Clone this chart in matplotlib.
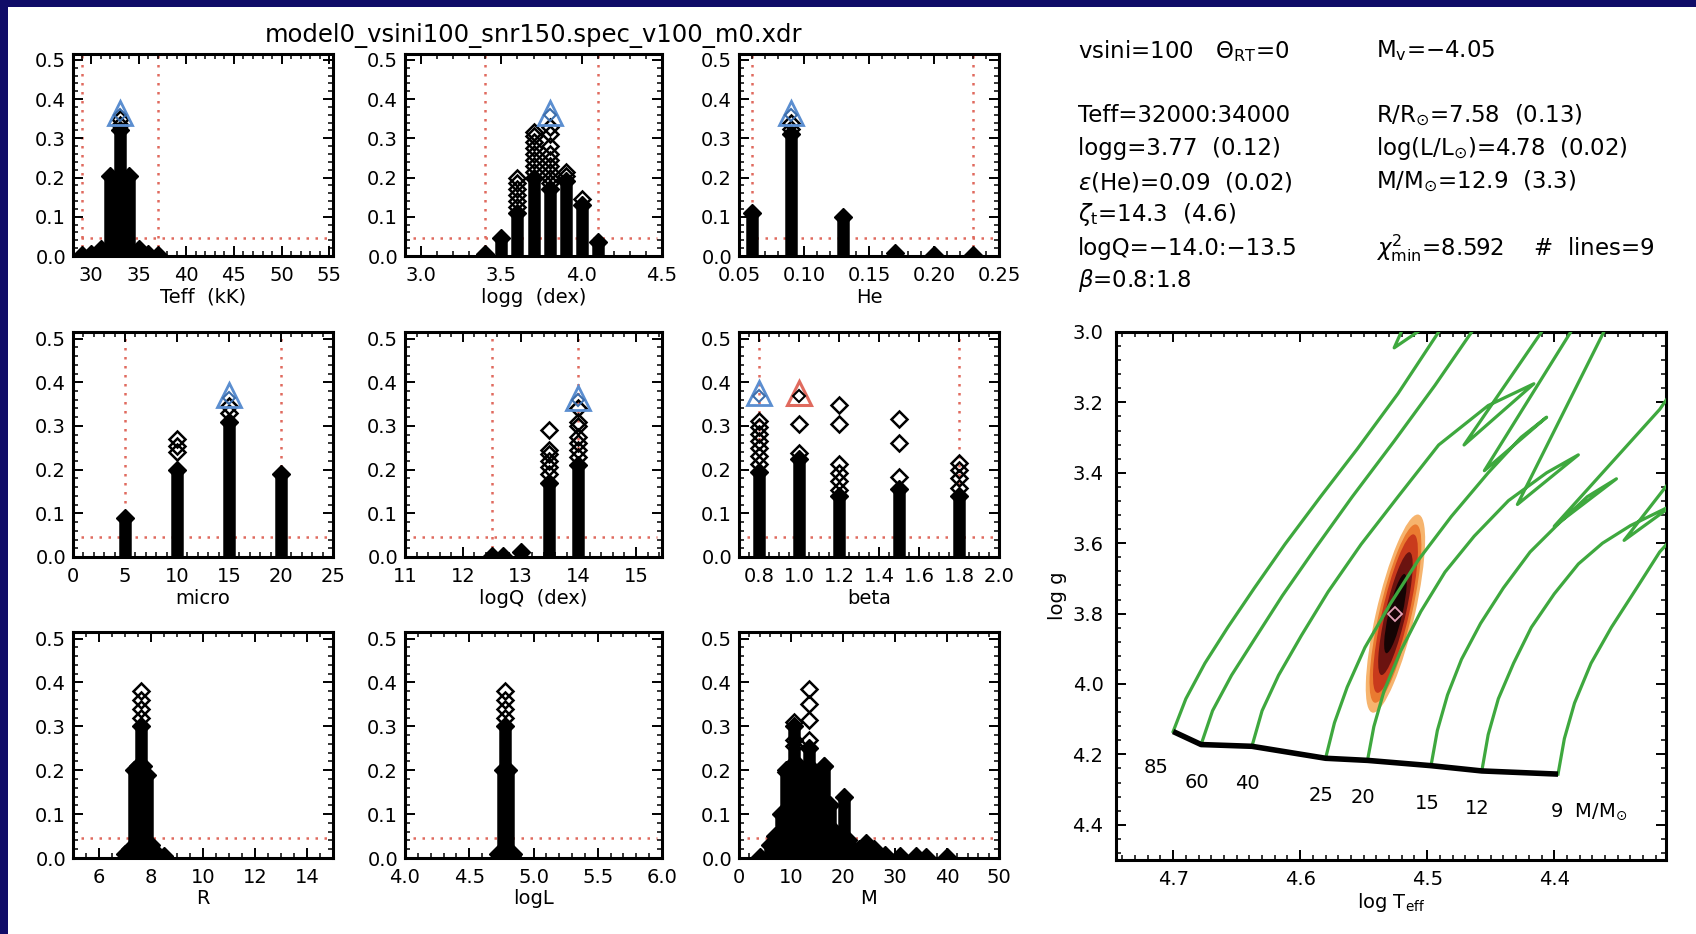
import matplotlib
matplotlib.use("Agg")
import matplotlib.pyplot as plt
from matplotlib.ticker import MultipleLocator, FormatStrFormatter
from matplotlib.patches import Rectangle, Circle
from matplotlib.transforms import Affine2D

plt.rcParams['font.family'] = ['DejaVu Sans']
plt.rcParams['mathtext.fontset'] = 'dejavusans'

# ------------------------------------------------------------------ data
title = "model0_vsini100_snr150.spec_v100_m0.xdr"
floor_level = 0.045

# Teff (kK)
teff_col_x = [29, 30, 31, 32, 33, 34, 35, 36, 37]
teff_col_top = [0.002, 0.006, 0.018, 0.205, 0.32, 0.205, 0.018, 0.006, 0.002]
teff_pts_x = [33, 33]
teff_pts_y = [0.335, 0.35]
teff_best = [33, 0.365]
teff_bounds = [29.0, 37.0]

# logg
logg_col_x = [3.4, 3.5, 3.6, 3.7, 3.8, 3.9, 4.0, 4.1]
logg_col_top = [0.004, 0.045, 0.11, 0.2, 0.17, 0.19, 0.13, 0.035]
logg_pts_x = [3.6, 3.6, 3.6, 3.6, 3.6, 3.6,
              3.7, 3.7, 3.7, 3.7, 3.7, 3.7, 3.7, 3.7,
              3.8, 3.8, 3.8, 3.8, 3.8, 3.8, 3.8, 3.8, 3.8,
              3.9, 3.9, 4.0]
logg_pts_y = [0.125, 0.14, 0.155, 0.17, 0.185, 0.2,
              0.215, 0.23, 0.245, 0.26, 0.275, 0.29, 0.305, 0.315,
              0.185, 0.2, 0.215, 0.23, 0.245, 0.26, 0.28, 0.31, 0.33,
              0.205, 0.215, 0.145]
logg_best = [3.8, 0.365]
logg_bounds = [3.4, 4.1]

# He
he_col_x = [0.06, 0.09, 0.13, 0.17, 0.20, 0.23]
he_col_top = [0.11, 0.31, 0.10, 0.007, 0.003, 0.002]
he_pts_x = [0.09, 0.09]
he_pts_y = [0.325, 0.34]
he_best = [0.09, 0.365]
he_bounds = [0.06, 0.23]

# micro
micro_col_x = [5, 10, 15, 20]
micro_col_top = [0.09, 0.20, 0.31, 0.19]
micro_pts_x = [10, 10, 10, 15, 15]
micro_pts_y = [0.24, 0.255, 0.27, 0.33, 0.345]
micro_best = [15, 0.37]
micro_bounds = [5, 20]

# logQ (dex)
logq_col_x = [12.5, 12.7, 13.0, 13.5, 14.0]
logq_col_top = [0.002, 0.003, 0.012, 0.17, 0.21]
logq_pts_x = [13.5, 13.5, 13.5, 13.5, 13.5, 13.5,
              14.0, 14.0, 14.0, 14.0, 14.0, 14.0, 14.0]
logq_pts_y = [0.19, 0.205, 0.22, 0.235, 0.245, 0.29,
              0.23, 0.245, 0.26, 0.275, 0.30, 0.31, 0.34]
logq_best = [14.0, 0.365]
logq_bounds = [12.5, 14.0]

# beta
beta_col_x = [0.8, 1.0, 1.2, 1.5, 1.8]
beta_col_top = [0.195, 0.225, 0.14, 0.155, 0.14]
beta_pts_x = [0.8, 0.8, 0.8, 0.8, 0.8, 0.8, 0.8,
              1.0, 1.0,
              1.2, 1.2, 1.2, 1.2, 1.2, 1.2,
              1.5, 1.5, 1.5,
              1.8, 1.8, 1.8, 1.8]
beta_pts_y = [0.212, 0.231, 0.25, 0.266, 0.281, 0.297, 0.312,
              0.239, 0.305,
              0.153, 0.173, 0.192, 0.212, 0.305, 0.347,
              0.184, 0.262, 0.316,
              0.157, 0.18, 0.20, 0.215]
beta_best = [0.8, 0.375]
beta_alt = [1.0, 0.375]
beta_bounds = [0.8, 1.8]

# R
r_col_x = [7.0, 7.2, 7.35, 7.5, 7.6, 7.7, 7.85, 8.0, 8.2, 8.5]
r_col_top = [0.008, 0.02, 0.2, 0.21, 0.3, 0.21, 0.19, 0.03, 0.012, 0.004]
r_pts_x = [7.6, 7.6, 7.6, 7.6]
r_pts_y = [0.32, 0.34, 0.36, 0.38]

# logL
logl_col_x = [4.72, 4.76, 4.78, 4.80, 4.84]
logl_col_top = [0.01, 0.2, 0.3, 0.2, 0.01]
logl_pts_x = [4.78, 4.78, 4.78, 4.78]
logl_pts_y = [0.32, 0.34, 0.36, 0.38]

# M
m_col_x = [4, 6, 7, 8, 9, 10, 10.6, 11.5, 12.3, 13.5, 14.3, 15.1, 16.3, 17.5,
           18.5, 20.1, 21, 22, 23, 24.5, 26, 28, 31, 34, 36, 40]
m_col_top = [0.003, 0.03, 0.05, 0.1, 0.2, 0.21, 0.3, 0.21, 0.2, 0.25, 0.2, 0.19,
             0.21, 0.12, 0.06, 0.14, 0.04, 0.02, 0.02, 0.035, 0.02, 0.006, 0.005,
             0.005, 0.003, 0.002]
m_pts_x = [10.6, 10.6, 10.6, 13.5, 13.5, 13.5, 13.5, 9.0, 16.3, 15.1, 15.1, 12.3]
m_pts_y = [0.255, 0.27, 0.31, 0.27, 0.315, 0.35, 0.385, 0.195, 0.21, 0.15, 0.17, 0.18]

# HR diagram: evolutionary tracks (log Teff, log g)
track_masses = ["85", "60", "40", "25", "20", "15", "12", "9"]
trk85_T = [4.700, 4.690, 4.675, 4.657, 4.636, 4.612, 4.584, 4.555, 4.523, 4.491, 4.478, 4.526, 4.517]
trk85_g = [4.135, 4.042, 3.941, 3.839, 3.727, 3.603, 3.468, 3.332, 3.175, 3.000, 2.927, 3.045, 2.972]
trk60_T = [4.678, 4.669, 4.654, 4.636, 4.614, 4.588, 4.559, 4.526, 4.494, 4.465, 4.455]
trk60_g = [4.172, 4.076, 3.975, 3.873, 3.749, 3.614, 3.468, 3.310, 3.152, 3.000, 2.938]
trk40_T = [4.638, 4.630, 4.617, 4.599, 4.578, 4.552, 4.523, 4.491, 4.452, 4.416, 4.471, 4.410, 4.400]
trk40_g = [4.177, 4.076, 3.975, 3.862, 3.738, 3.603, 3.468, 3.321, 3.209, 3.147, 3.321, 3.000, 2.938]
trk25_T = [4.580, 4.573, 4.563, 4.549, 4.529, 4.507, 4.481, 4.452, 4.426, 4.406, 4.455, 4.387, 4.381]
trk25_g = [4.211, 4.110, 4.009, 3.896, 3.772, 3.648, 3.524, 3.400, 3.299, 3.242, 3.394, 3.000, 2.938]
trk20_T = [4.547, 4.542, 4.534, 4.521, 4.505, 4.486, 4.463, 4.436, 4.406, 4.381, 4.429, 4.361, 4.356]
trk20_g = [4.217, 4.121, 4.020, 3.907, 3.794, 3.682, 3.580, 3.479, 3.400, 3.349, 3.490, 3.000, 2.938]
trk15_T = [4.497, 4.492, 4.484, 4.473, 4.458, 4.440, 4.419, 4.397, 4.374, 4.351, 4.400, 4.317, 4.306]
trk15_g = [4.232, 4.132, 4.031, 3.930, 3.828, 3.727, 3.625, 3.546, 3.468, 3.417, 3.552, 3.220, 3.163]
trk12_T = [4.457, 4.452, 4.444, 4.432, 4.418, 4.400, 4.381, 4.362, 4.340, 4.306, 4.345, 4.306]
trk12_g = [4.247, 4.144, 4.042, 3.941, 3.839, 3.744, 3.659, 3.600, 3.550, 3.490, 3.592, 3.411]
trk9_T = [4.397, 4.392, 4.384, 4.371, 4.355, 4.335, 4.317, 4.303]
trk9_g = [4.256, 4.155, 4.054, 3.941, 3.839, 3.727, 3.625, 3.569]

zams_T = [4.700, 4.678, 4.638, 4.580, 4.547, 4.497, 4.457, 4.397]
zams_g = [4.135, 4.172, 4.177, 4.211, 4.217, 4.232, 4.247, 4.256]

# chi^2 confidence region (nested levels): centre, semi-major vector, minor half-widths
conf_center = [4.525, 3.80]
conf_major = [-0.0175, -0.2815]
conf_major_frac = [1.0, 0.9, 0.8, 0.62, 0.4]
conf_minor = [0.0155, 0.0130, 0.0108, 0.0082, 0.0055]
conf_colors = ['#f6b46e', '#ea7a30', '#c93a1c', '#6b1310', '#150404']
best_fit = [4.525, 3.80]

# result text
left_lines = [r"vsini=100   $\Theta_{\rm RT}$=0",
              "", "Teff=32000:34000", "logg=3.77  (0.12)", r"$\epsilon$(He)=0.09  (0.02)",
              r"$\zeta_{\rm t}$=14.3  (4.6)", "logQ=−14.0:−13.5", r"$\beta$=0.8:1.8"]
right_lines = [r"M$_{\rm v}$=−4.05", "", r"R/R$_{\odot}$=7.58  (0.13)",
               r"log(L/L$_{\odot}$)=4.78  (0.02)", r"M/M$_{\odot}$=12.9  (3.3)", "",
               r"$\chi^2_{\rm min}$=8.592    #  lines=9", ""]

# ------------------------------------------------------------------ figure
W, H = 1696, 934
fig = plt.figure(figsize=(W / 100, H / 100), dpi=100)
fig.patch.set_facecolor('#100c68')
fig.add_artist(Rectangle((8 / W, 0), 1, 1 - 7 / H, transform=fig.transFigure,
                         facecolor='white', edgecolor='none', zorder=0))


def box(l, t, r, b):
    return [l / W, 1 - b / H, (r - l) / W, (b - t) / H]


RED = '#e06a5e'
BLUE = '#5b8ed0'
DBLUE = '#3d6eab'


def style(ax, xmaj, xmin, fmt, ymaj, ymin, yfmt, xpad=8, ypad=6):
    ax.xaxis.set_major_locator(MultipleLocator(xmaj))
    ax.xaxis.set_minor_locator(MultipleLocator(xmin))
    ax.yaxis.set_major_locator(MultipleLocator(ymaj))
    ax.yaxis.set_minor_locator(MultipleLocator(ymin))
    ax.xaxis.set_major_formatter(FormatStrFormatter(fmt))
    ax.yaxis.set_major_formatter(FormatStrFormatter(yfmt))
    ax.tick_params(which='both', direction='in', top=True, right=True, labelsize=14)
    ax.tick_params(which='major', length=7, width=1.4)
    ax.tick_params(which='minor', length=3.5, width=1.1)
    ax.tick_params(axis='x', pad=7)
    ax.tick_params(axis='y', pad=ypad)
    for s in ax.spines.values():
        s.set_linewidth(2.2)


def panel(rect, xlim, xmaj, xmin, fmt, xlabel, col_x, col_top, pts_x, pts_y,
          bounds=None, best=None, alt=None):
    ax = fig.add_axes(rect)
    ax.set_xlim(*xlim)
    ax.set_ylim(0, 0.515)
    style(ax, xmaj, xmin, fmt, 0.1, 0.02, '%.1f', ypad=5)
    ax.set_xlabel(xlabel, fontsize=14, labelpad=2)
    ls = (0, (1, 2.6))
    ax.axhline(floor_level, xmin=0.03, xmax=0.98, color=RED, lw=1.8, ls=ls, zorder=1)
    if bounds is not None:
        for b in bounds:
            ax.axvline(b, color=RED, lw=1.8, ls=ls, zorder=1)
    ax.vlines(col_x, 0, col_top, colors='k', lw=9, zorder=2)
    ax.plot(col_x, col_top, 'D', ms=9, mfc='k', mec='k', zorder=2)
    ax.plot(pts_x, pts_y, 'D', ms=8, mfc='none', mec='k', mew=1.8, zorder=3)
    if best is not None:
        ax.plot(best[0], best[1], '^', ms=17, mfc='none', mec=BLUE, mew=2.0, zorder=4)
        ax.plot(best[0], best[1] - 0.006, 'D', ms=6, mfc='none', mec=DBLUE, mew=1.5, zorder=4)
    if alt is not None:
        ax.plot(alt[0], alt[1], '^', ms=17, mfc='none', mec=RED, mew=2.2, zorder=4)
        ax.plot(alt[0], alt[1] - 0.006, 'D', ms=6, mfc='none', mec='k', mew=1.5, zorder=4)
    return ax


cols = [(73, 333), (405, 662), (739, 999)]
rows = [(54, 256), (332, 557), (632, 858)]


def R(i, j):
    return box(cols[j][0], rows[i][0], cols[j][1], rows[i][1])


panel(R(0, 0), (28.1, 55.4), 5, 1, '%d', 'Teff  (kK)', teff_col_x, teff_col_top,
      teff_pts_x, teff_pts_y, teff_bounds, teff_best)
panel(R(0, 1), (2.9, 4.5), 0.5, 0.1, '%.1f', 'logg  (dex)', logg_col_x, logg_col_top,
      logg_pts_x, logg_pts_y, logg_bounds, logg_best)
panel(R(0, 2), (0.05, 0.25), 0.05, 0.01, '%.2f', 'He', he_col_x, he_col_top,
      he_pts_x, he_pts_y, he_bounds, he_best)
panel(R(1, 0), (0, 25), 5, 1, '%d', 'micro', micro_col_x, micro_col_top,
      micro_pts_x, micro_pts_y, micro_bounds, micro_best)
panel(R(1, 1), (11, 15.45), 1, 0.2, '%d', 'logQ  (dex)', logq_col_x, logq_col_top,
      logq_pts_x, logq_pts_y, logq_bounds, logq_best)
panel(R(1, 2), (0.7, 2.0), 0.2, 0.05, '%.1f', 'beta', beta_col_x, beta_col_top,
      beta_pts_x, beta_pts_y, beta_bounds, beta_best, beta_alt)
panel(R(2, 0), (5, 15), 2, 0.5, '%d', 'R', r_col_x, r_col_top, r_pts_x, r_pts_y)
panel(R(2, 1), (4, 6), 0.5, 0.1, '%.1f', 'logL', logl_col_x, logl_col_top, logl_pts_x, logl_pts_y)
panel(R(2, 2), (0, 50), 10, 2, '%d', 'M', m_col_x, m_col_top, m_pts_x, m_pts_y)

fig.text(534 / W, 1 - 36 / H, title, fontsize=17.5, ha='center', va='center')

# ------------------------------------------------------------------ HR diagram
hx = fig.add_axes(box(1116, 332, 1666, 860))
hx.set_xlim(4.745, 4.312)
hx.set_ylim(4.5, 3.0)
style(hx, 0.1, 0.01, '%.1f', 0.2, 0.04, '%.1f', xpad=9, ypad=9)
hx.set_xlabel(r"log T$_{\rm eff}$", fontsize=14, labelpad=2)
hx.set_ylabel("log g", fontsize=14, labelpad=4)

for lev in range(len(conf_major_frac)):
    f = conf_major_frac[lev]
    m = conf_minor[lev]
    tr = Affine2D.from_values(conf_major[0] * f, conf_major[1] * f, m, 0,
                              conf_center[0], conf_center[1])
    hx.add_patch(Circle((0, 0), 1, transform=tr + hx.transData,
                        facecolor=conf_colors[lev], edgecolor='none', zorder=2))
hx.plot(best_fit[0], best_fit[1], 'D', ms=7, mfc='none', mec='#e6a2b8', mew=1.3, zorder=5)

tracks = [(trk85_T, trk85_g), (trk60_T, trk60_g), (trk40_T, trk40_g), (trk25_T, trk25_g),
          (trk20_T, trk20_g), (trk15_T, trk15_g), (trk12_T, trk12_g), (trk9_T, trk9_g)]
for tT, tg in tracks:
    hx.plot(tT, tg, color='#3ea83e', lw=2.3, zorder=3)
hx.plot(zams_T, zams_g, color='k', lw=4, solid_capstyle='butt', zorder=4)

for k, lab in enumerate(track_masses):
    off = (-12, -26) if k == 0 else (-3, -27)
    if lab == "9":
        hx.annotate(r"9  M/M$_{\odot}$", (zams_T[k], zams_g[k]), xytext=(-6, -27),
                    textcoords='offset points', ha='left', va='center', fontsize=14)
    else:
        hx.annotate(lab, (zams_T[k], zams_g[k]), xytext=off, textcoords='offset points',
                    ha='center', va='center', fontsize=14)

# ------------------------------------------------------------------ text block
ys = [51, 84, 116, 149, 182, 214, 248, 281]
for k in range(len(left_lines)):
    if left_lines[k]:
        fig.text(1078 / W, 1 - ys[k] / H, left_lines[k], fontsize=16.5, ha='left', va='center')
    if right_lines[k]:
        fig.text(1376 / W, 1 - ys[k] / H, right_lines[k], fontsize=16.5, ha='left', va='center')

fig.savefig("out.png", dpi=100, facecolor=fig.get_facecolor())
